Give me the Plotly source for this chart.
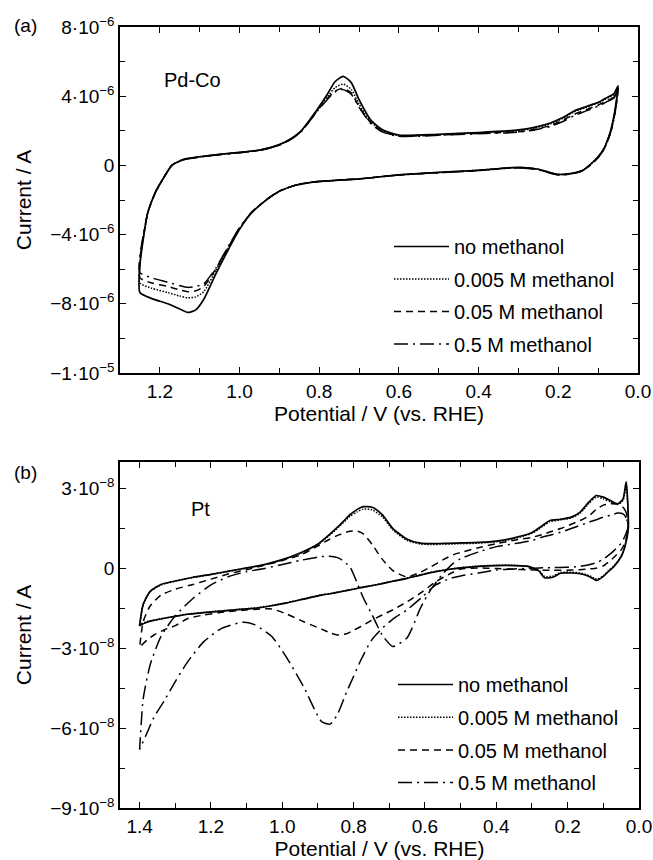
import plotly.graph_objects as go

# ---------------- Panel (a): Pd-Co  (current in microampere) ----------------
pdco_E_fwd = [0.05, 0.06, 0.08, 0.10, 0.13, 0.16, 0.19, 0.22, 0.26, 0.30, 0.40, 0.50, 0.60, 0.64, 0.67,
              0.70, 0.72, 0.74, 0.76, 0.78, 0.80, 0.82, 0.845, 0.87, 0.90, 0.95, 1.00, 1.05, 1.10, 1.14,
              1.17, 1.19, 1.21, 1.23, 1.24, 1.25]
pdco_E_rev = [1.25, 1.22, 1.18, 1.15, 1.13, 1.11, 1.09, 1.06, 1.03, 1.00, 0.97, 0.93, 0.90, 0.86, 0.82,
              0.75, 0.70, 0.60, 0.50, 0.40, 0.33, 0.29, 0.25, 0.22, 0.20, 0.17, 0.14, 0.12, 0.10, 0.085,
              0.07, 0.06, 0.05]

pdco_none_fwd = [4.6, 4.15, 3.9, 3.65, 3.4, 3.15, 2.75, 2.45, 2.2, 2.05, 1.9, 1.8, 1.75, 2.05, 2.6,
                 3.8, 4.8, 5.15, 4.85, 4.1, 3.4, 2.75, 2.0, 1.55, 1.2, 0.88, 0.75, 0.64, 0.5, 0.35,
                 0.0, -0.7, -1.5, -2.7, -4.0, -5.8]
pdco_none_rev = [-7.35, -7.7, -8.0, -8.3, -8.5, -8.35, -7.75, -6.3, -4.95, -3.7, -2.75, -1.95, -1.5, -1.15, -0.98,
                 -0.85, -0.78, -0.55, -0.4, -0.28, -0.15, -0.12, -0.22, -0.42, -0.52, -0.48, -0.3, 0.05, 0.5, 1.0,
                 1.9, 2.9, 4.6]
pdco_m0005_fwd = [4.55, 4.1, 3.85, 3.6, 3.35, 3.1, 2.7, 2.4, 2.15, 2.0, 1.88, 1.78, 1.72, 2.0, 2.5,
                  3.55, 4.4, 4.7, 4.5, 3.95, 3.35, 2.72, 2.0, 1.55, 1.2, 0.88, 0.75, 0.64, 0.5, 0.35,
                  0.0, -0.7, -1.5, -2.7, -4.0, -5.6]
pdco_m0005_rev = [-6.8, -7.1, -7.35, -7.55, -7.65, -7.6, -7.3, -6.1, -4.85, -3.65, -2.73, -1.95, -1.5, -1.15, -0.98,
                  -0.85, -0.78, -0.55, -0.4, -0.28, -0.15, -0.12, -0.22, -0.42, -0.52, -0.48, -0.3, 0.05, 0.5, 1.0,
                  1.9, 2.85, 4.55]
pdco_m005_fwd = [4.45, 3.95, 3.72, 3.48, 3.22, 2.95, 2.6, 2.3, 2.08, 1.95, 1.85, 1.76, 1.7, 1.95, 2.45,
                 3.4, 4.2, 4.45, 4.3, 3.85, 3.3, 2.7, 1.98, 1.53, 1.18, 0.87, 0.74, 0.63, 0.49, 0.34,
                 0.0, -0.7, -1.5, -2.7, -3.9, -5.4]
pdco_m005_rev = [-6.5, -6.8, -7.0, -7.2, -7.3, -7.25, -7.0, -6.0, -4.8, -3.62, -2.72, -1.94, -1.49, -1.14, -0.97,
                 -0.85, -0.78, -0.56, -0.42, -0.3, -0.17, -0.15, -0.25, -0.45, -0.55, -0.5, -0.32, 0.02, 0.45, 0.95,
                 1.8, 2.75, 4.45]
pdco_m05_fwd = [4.4, 3.9, 3.66, 3.42, 3.15, 2.88, 2.52, 2.25, 2.05, 1.92, 1.83, 1.74, 1.68, 1.92, 2.4,
                3.35, 4.12, 4.38, 4.25, 3.8, 3.28, 2.68, 1.96, 1.52, 1.17, 0.86, 0.73, 0.62, 0.48, 0.33,
                -0.02, -0.72, -1.5, -2.7, -3.85, -5.2]
pdco_m05_rev = [-6.2, -6.5, -6.75, -6.95, -7.05, -7.0, -6.85, -5.95, -4.75, -3.6, -2.72, -1.94, -1.49, -1.14, -0.97,
                -0.85, -0.78, -0.56, -0.42, -0.3, -0.17, -0.15, -0.25, -0.45, -0.55, -0.5, -0.32, 0.02, 0.45, 0.95,
                1.8, 2.7, 4.4]

# ---------------- Panel (b): Pt  (current in units of 1e-8 A) ----------------
pt_E_fwd = [0.03, 0.036, 0.045, 0.06, 0.08, 0.10, 0.12, 0.14, 0.165, 0.19, 0.22, 0.25, 0.27, 0.30, 0.35,
            0.40, 0.45, 0.50, 0.52, 0.55, 0.585, 0.613, 0.65, 0.69, 0.72, 0.748, 0.773, 0.79, 0.81, 0.84,
            0.87, 0.90, 0.95, 1.00, 1.05, 1.10, 1.15, 1.20, 1.25, 1.30, 1.34, 1.37, 1.39, 1.40]
pt_E_rev = [1.40, 1.38, 1.36, 1.33, 1.30, 1.265, 1.22, 1.17, 1.11, 1.08, 1.03, 0.99, 0.94, 0.89, 0.866,
            0.846, 0.82, 0.80, 0.78, 0.75, 0.72, 0.69, 0.65, 0.61, 0.57, 0.53, 0.50, 0.45, 0.40, 0.35,
            0.31, 0.28, 0.265, 0.24, 0.22, 0.19, 0.165, 0.14, 0.118, 0.10, 0.085, 0.07, 0.05, 0.04, 0.03]

pt_none_fwd = [1.5, 3.25, 2.6, 2.43, 2.55, 2.68, 2.74, 2.5, 2.12, 1.93, 1.85, 1.8, 1.62, 1.35, 1.15,
               1.03, 0.98, 0.96, 0.95, 0.94, 0.93, 0.95, 1.1, 1.5, 2.02, 2.3, 2.32, 2.22, 2.02, 1.62,
               1.25, 0.92, 0.58, 0.33, 0.15, 0.02, -0.1, -0.22, -0.33, -0.47, -0.6, -0.85, -1.35, -2.15]
pt_none_rev = [-2.15, -2.02, -1.95, -1.87, -1.8, -1.72, -1.66, -1.6, -1.53, -1.5, -1.4, -1.3, -1.15, -1.0, -0.95,
               -0.9, -0.83, -0.78, -0.72, -0.65, -0.57, -0.48, -0.37, -0.24, -0.12, -0.03, 0.02, 0.08, 0.11, 0.11,
               0.08, -0.1, -0.35, -0.32, -0.18, -0.17, -0.2, -0.3, -0.45, -0.3, -0.1, 0.08, 0.45, 0.8, 1.5]
pt_m0005_fwd = [1.5, 3.1, 2.55, 2.4, 2.5, 2.62, 2.68, 2.45, 2.08, 1.9, 1.82, 1.76, 1.58, 1.32, 1.12,
                1.0, 0.95, 0.93, 0.92, 0.91, 0.9, 0.92, 1.05, 1.45, 1.95, 2.2, 2.23, 2.13, 1.96, 1.58,
                1.22, 0.9, 0.56, 0.32, 0.14, 0.01, -0.11, -0.23, -0.34, -0.48, -0.62, -0.87, -1.35, -2.1]
pt_m0005_rev = [-2.1, -2.0, -1.94, -1.86, -1.79, -1.71, -1.65, -1.59, -1.52, -1.49, -1.39, -1.29, -1.14, -0.99, -0.94,
                -0.89, -0.82, -0.77, -0.71, -0.64, -0.56, -0.47, -0.36, -0.23, -0.11, -0.02, 0.03, 0.09, 0.12, 0.12,
                0.07, -0.08, -0.3, -0.28, -0.15, -0.14, -0.17, -0.27, -0.4, -0.27, -0.08, 0.1, 0.45, 0.8, 1.5]
pt_m005_fwd = [1.5, 2.1, 2.3, 2.42, 2.43, 2.38, 2.22, 1.98, 1.8, 1.66, 1.5, 1.37, 1.28, 1.17, 1.06,
               0.93, 0.78, 0.6, 0.52, 0.32, 0.05, -0.14, -0.32, -0.08, 0.35, 0.9, 1.3, 1.4, 1.4, 1.27,
               1.08, 0.85, 0.5, 0.3, 0.12, -0.05, -0.2, -0.4, -0.6, -0.78, -1.0, -1.4, -2.0, -2.95]
pt_m005_rev = [-2.95, -2.7, -2.5, -2.3, -2.15, -1.88, -1.75, -1.65, -1.57, -1.54, -1.52, -1.7, -2.0, -2.28, -2.42,
               -2.5, -2.45, -2.32, -2.18, -1.95, -1.75, -1.55, -1.25, -0.9, -0.5, -0.2, -0.02, 0.02, 0.0, -0.03,
               -0.05, -0.06, -0.07, -0.07, -0.07, -0.06, -0.05, -0.02, 0.02, 0.1, 0.25, 0.42, 0.7, 0.95, 1.5]
pt_m05_fwd = [1.6, 1.9, 2.05, 2.08, 2.0, 1.93, 1.83, 1.74, 1.62, 1.5, 1.36, 1.25, 1.18, 1.05, 0.93,
              0.82, 0.62, 0.37, 0.2, -0.2, -0.82, -1.5, -2.6, -2.93, -2.5, -1.75, -1.1, -0.55, 0.05, 0.38,
              0.46, 0.43, 0.3, 0.15, 0.0, -0.12, -0.3, -0.62, -1.12, -1.78, -2.55, -3.6, -4.9, -6.8]
pt_m05_rev = [-6.8, -6.2, -5.6, -4.95, -4.25, -3.5, -2.75, -2.25, -2.02, -2.1, -2.55, -3.3, -4.45, -5.75, -5.85,
              -5.5, -4.65, -4.05, -3.45, -2.7, -2.25, -1.9, -1.55, -1.1, -0.62, -0.38, -0.28, -0.17, -0.06, -0.02,
              0.0, 0.02, 0.03, 0.03, 0.04, 0.05, 0.08, 0.14, 0.22, 0.35, 0.5, 0.67, 0.95, 1.2, 1.6]

series_names = ["no methanol", "0.005 M methanol", "0.05 M methanol", "0.5 M methanol"]
series_dash = ["solid", "1.5px,1.5px", "7px,5px", "14px,5px,2px,5px"]

# tick labels
pdco_ytick_vals = [-1.2e-5, -8e-6, -4e-6, 0, 4e-6, 8e-6]
pdco_ytick_text = ["\u22121\u00b710<sup>\u22125</sup>", "\u22128\u00b710<sup>\u22126</sup>",
                   "\u22124\u00b710<sup>\u22126</sup>", "0", "4\u00b710<sup>\u22126</sup>",
                   "8\u00b710<sup>\u22126</sup>"]
pt_ytick_vals = [-9e-8, -6e-8, -3e-8, 0, 3e-8]
pt_ytick_text = ["\u22129\u00b710<sup>\u22128</sup>", "\u22126\u00b710<sup>\u22128</sup>",
                 "\u22123\u00b710<sup>\u22128</sup>", "0", "3\u00b710<sup>\u22128</sup>"]
pdco_xtick_vals = [1.2, 1.0, 0.8, 0.6, 0.4, 0.2, 0.0]
pt_xtick_vals = [1.4, 1.2, 1.0, 0.8, 0.6, 0.4, 0.2, 0.0]

FONT = "Liberation Sans, Arial, Helvetica, sans-serif"
W, H = 653, 860

fig = go.Figure()

pdco_sets = [(pdco_none_fwd, pdco_none_rev), (pdco_m0005_fwd, pdco_m0005_rev),
             (pdco_m005_fwd, pdco_m005_rev), (pdco_m05_fwd, pdco_m05_rev)]
pt_sets = [(pt_none_fwd, pt_none_rev), (pt_m0005_fwd, pt_m0005_rev),
           (pt_m005_fwd, pt_m005_rev), (pt_m05_fwd, pt_m05_rev)]

for i, (fwd, rev) in enumerate(pdco_sets):
    fig.add_trace(go.Scatter(
        x=pdco_E_fwd + pdco_E_rev, y=[v * 1e-6 for v in fwd + rev],
        mode="lines", name=series_names[i], legend="legend", legendgroup="a%d" % i,
        line=dict(color="black", width=1.5 if i else 1.7, dash=series_dash[i], shape="spline", smoothing=0.6),
        xaxis="x", yaxis="y"))

for i, (fwd, rev) in enumerate(pt_sets):
    fig.add_trace(go.Scatter(
        x=pt_E_fwd + pt_E_rev, y=[v * 1e-8 for v in fwd + rev],
        mode="lines", name=series_names[i], legend="legend2", legendgroup="b%d" % i,
        line=dict(color="black", width=1.5 if i else 1.7, dash=series_dash[i], shape="spline", smoothing=0.6),
        xaxis="x2", yaxis="y2"))

def px_x(p):
    return p / W

def px_y(p):
    return 1 - p / H

axis_common = dict(showline=True, linecolor="black", linewidth=1.5, mirror="ticks",
                   ticks="inside", ticklen=6, tickwidth=1.3, tickcolor="black",
                   showgrid=False, zeroline=False, automargin=False,
                   tickfont=dict(family=FONT, size=19, color="black"))
minor_common = dict(ticks="inside", ticklen=5, tickwidth=1.3, tickcolor="black",
                    tickmode="linear", tick0=0, showgrid=False)
title_font = dict(family=FONT, size=21, color="black")

fig.update_layout(
    width=W, height=H, margin=dict(l=0, r=0, t=0, b=0, autoexpand=False),
    paper_bgcolor="white", plot_bgcolor="white",
    font=dict(family=FONT, color="black", size=19),
    xaxis=dict(axis_common, domain=[px_x(120), px_x(638)], range=[1.3, 0.0], anchor="y",
               tickmode="array", tickvals=pdco_xtick_vals,
               ticktext=["%.1f" % v for v in pdco_xtick_vals],
               minor=dict(minor_common, dtick=0.1),
               title=dict(text="Potential / V (vs. RHE)", font=title_font, standoff=6)),
    yaxis=dict(axis_common, domain=[px_y(373), px_y(27)], range=[-1.2e-5, 8e-6], anchor="x",
               tickmode="array", tickvals=pdco_ytick_vals, ticktext=pdco_ytick_text,
               minor=dict(minor_common, dtick=2e-6),
               title=dict(text="Current / A", font=title_font, standoff=13)),
    xaxis2=dict(axis_common, domain=[px_x(120), px_x(639)], range=[1.455, 0.0], anchor="y2",
                tickmode="array", tickvals=pt_xtick_vals,
                ticktext=["%.1f" % v for v in pt_xtick_vals],
                minor=dict(minor_common, dtick=0.1),
                title=dict(text="Potential / V (vs. RHE)", font=title_font, standoff=6)),
    yaxis2=dict(axis_common, domain=[px_y(808), px_y(462)], range=[-9e-8, 4e-8], anchor="x2",
                tickmode="array", tickvals=pt_ytick_vals, ticktext=pt_ytick_text,
                minor=dict(minor_common, dtick=1.5e-8),
                title=dict(text="Current / A", font=title_font, standoff=13)),
    legend=dict(x=px_x(389), y=px_y(227), xanchor="left", yanchor="top",
                bgcolor="rgba(0,0,0,0)", font=dict(family=FONT, size=20),
                traceorder="grouped", tracegroupgap=3.5, itemwidth=55),
    legend2=dict(x=px_x(393), y=px_y(665), xanchor="left", yanchor="top",
                 bgcolor="rgba(0,0,0,0)", font=dict(family=FONT, size=20),
                 traceorder="grouped", tracegroupgap=3.7, itemwidth=55),
    annotations=[
        dict(text="(a)", x=px_x(12), y=px_y(25), xref="paper", yref="paper",
             xanchor="left", yanchor="middle", showarrow=False, font=dict(family=FONT, size=19)),
        dict(text="(b)", x=px_x(12), y=px_y(472), xref="paper", yref="paper",
             xanchor="left", yanchor="middle", showarrow=False, font=dict(family=FONT, size=19)),
        dict(text="Pd-Co", x=px_x(162), y=px_y(80), xref="paper", yref="paper",
             xanchor="left", yanchor="middle", showarrow=False, font=dict(family=FONT, size=20)),
        dict(text="Pt", x=px_x(189), y=px_y(509), xref="paper", yref="paper",
             xanchor="left", yanchor="middle", showarrow=False, font=dict(family=FONT, size=20)),
    ],
)

fig.write_html("out.html")
